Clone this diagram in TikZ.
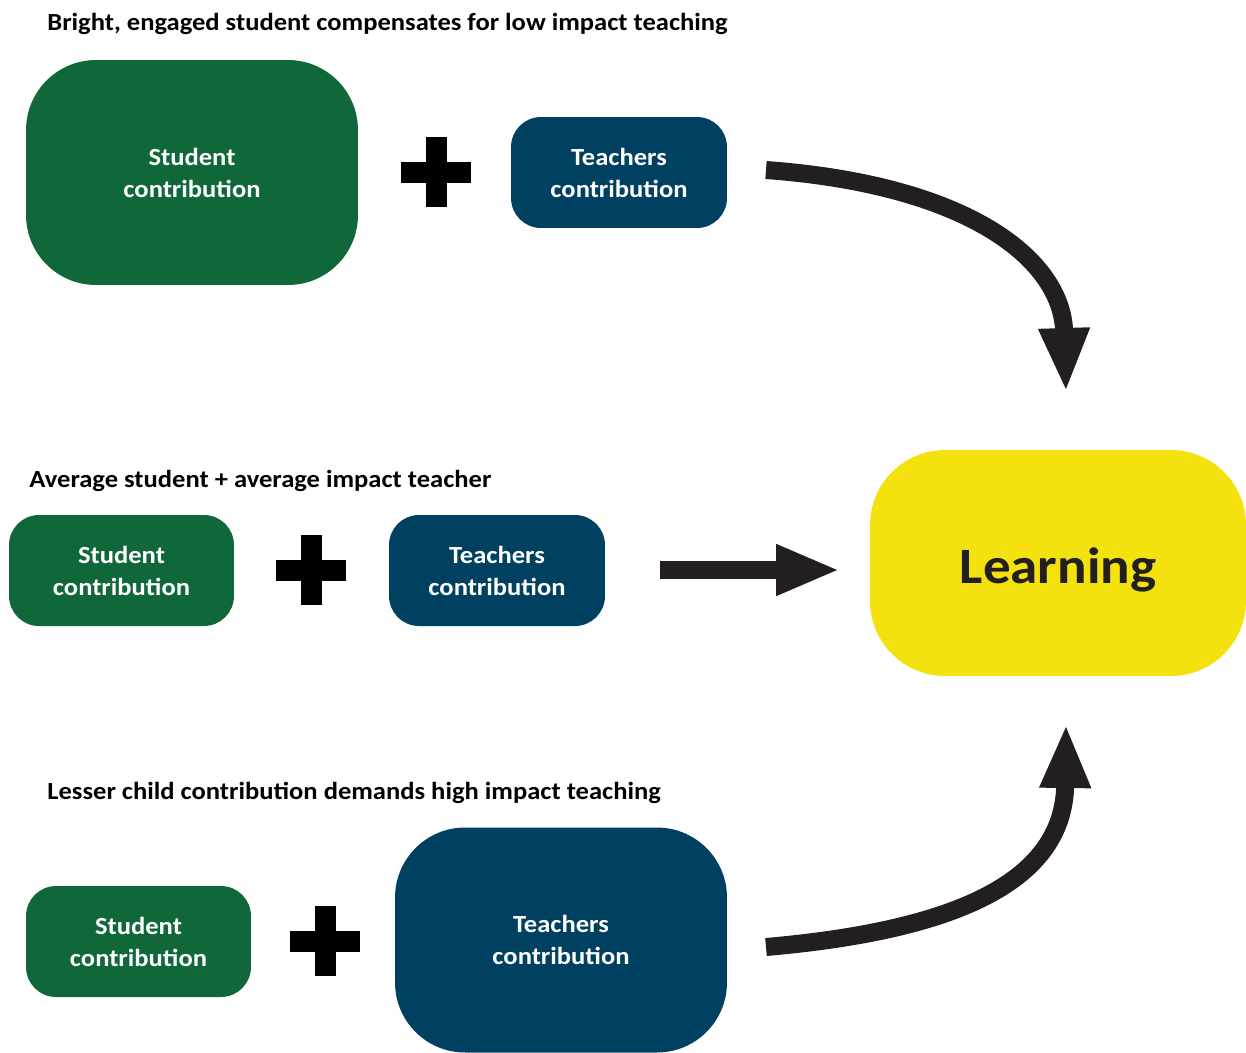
\documentclass[tikz,border=0pt]{standalone}
\usepackage{fontspec}
\setmainfont{Carlito}[FakeStretch=1.08]
\usetikzlibrary{arrows.meta}
\definecolor{stgreen}{RGB}{16,104,58}
\definecolor{tcblue}{RGB}{0,64,96}
\definecolor{lnyellow}{RGB}{243,226,14}
\definecolor{arrowblack}{RGB}{35,31,32}

\begin{document}
\begin{tikzpicture}[x=0.02cm,y=-0.02cm,
    box/.style={inner sep=0pt,outer sep=0pt,align=center,text=white,
        font=\fontsize{14}{18.2}\selectfont\bfseries},
    student/.style={box,fill=stgreen,minimum width=4.5cm,minimum height=2.22cm,rounded corners=0.6cm},
    teacher/.style={box,fill=tcblue,minimum width=4.32cm,minimum height=2.22cm,rounded corners=0.6cm},
    bigbox/.style={minimum width=6.64cm,minimum height=4.5cm,rounded corners=1.4cm},
    heading/.style={anchor=base west,inner sep=0pt,font=\fontsize{14}{16}\selectfont\bfseries},
    flow/.style={draw=arrowblack,line width=0.36cm,-{Triangle[length=1.28cm,width=0.94cm]}}]
    \useasboundingbox (0,0) rectangle (1246,1052);
        % headings
        \node(H1)[heading] at (47,30) {Bright, engaged student compensates for low impact teaching};
        \node(H2)[heading] at (29,487) {Average student + average impact teacher};
        \node(H3)[heading] at (47,799) {Lesser child contribution demands high impact teaching};
        % top row
        \node(S1)[student,bigbox] at (192,172.5) {Student\\contribution};
        \node(T1)[teacher] at (619,172.5) {Teachers\\contribution};
        % middle row
        \node(S2)[student] at (121.5,570.5) {Student\\contribution};
        \node(T2)[teacher] at (497,570.5) {Teachers\\contribution};
        % bottom row
        \node(S3)[student] at (138.5,941.5) {Student\\contribution};
        \node(T3)[teacher,bigbox] at (561,940) {Teachers\\contribution};
        % learning
        \node(L)[inner sep=0pt,fill=lnyellow,text=arrowblack,minimum width=7.52cm,minimum height=4.52cm,
            rounded corners=1.5cm,text height=0.8cm,text depth=0pt,
            font=\fontsize{29}{34}\selectfont\bfseries] at (1058,563) {Learning};
        % plus signs
        \foreach \px/\py in {436/172, 311/570, 325/941} {
            \fill (\px-35,\py-10.5) rectangle (\px+35,\py+10.5);
            \fill (\px-10.5,\py-35) rectangle (\px+10.5,\py+35);
        }
        % arrows
        \coordinate(A1) at (766,170);
        \coordinate(A2) at (660,570);
        \coordinate(A3) at (766,947);
        \coordinate(B1) at (1066,392);
        \coordinate(B2) at (840,570);
        \coordinate(B3) at (1066,724);
        \draw[flow] (A1) .. controls (970,185) and (1062,260) .. (B1);
        \draw[flow] (A2) -- (B2);
        \draw[flow] (A3) .. controls (960,930) and (1064,880) .. (B3);
    \end{tikzpicture}
\end{document}
